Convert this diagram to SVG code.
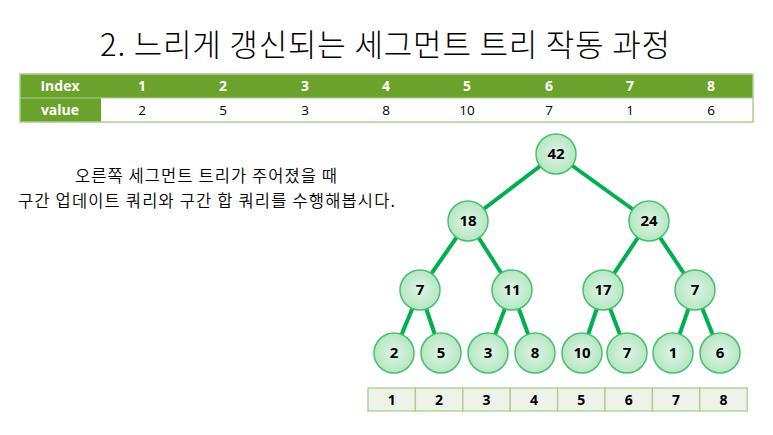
<svg xmlns="http://www.w3.org/2000/svg" width="773" height="435" viewBox="0 0 773 435">
<style>
.t{font-family:"Noto Sans CJK KR","Noto Sans",sans-serif;fill:#000}
.hd{font-family:"Open Sans","Noto Sans",sans-serif;font-weight:bold;font-size:14px;fill:#fff;text-anchor:middle}
.vl{font-family:"Open Sans","Noto Sans",sans-serif;font-size:13.5px;fill:#000;text-anchor:middle}
.nd circle{fill:url(#g);stroke:#45c06e;stroke-width:1.5}
.nd text{font-family:"Open Sans","Noto Sans",sans-serif;font-weight:bold;font-size:15px;fill:#000;text-anchor:middle}
.cl{fill:#eef2e8;stroke:#a6d08b;stroke-width:1.3}
.ct{font-family:"Open Sans","Noto Sans",sans-serif;font-weight:bold;font-size:14px;fill:#000;text-anchor:middle}
.e line{stroke:#00b050;stroke-width:4}
</style>
<defs>
<radialGradient id="g" cx="50%" cy="50%" r="50%">
<stop offset="0" stop-color="#e0f5e6"/>
<stop offset="1" stop-color="#b5e6c2"/>
</radialGradient>
</defs>
<rect width="773" height="435" fill="#fff"/>
<text class="t" x="385" y="56" font-size="31" font-weight="300" textLength="570" lengthAdjust="spacing" text-anchor="middle">2. 느리게 갱신되는 세그먼트 트리 작동 과정</text>
<g id="table">
<rect x="20" y="74" width="733" height="24" fill="#6aa22c"/>
<rect x="20" y="98" width="81" height="24" fill="#6aa22c"/>
<rect x="101" y="98" width="652" height="24" fill="#fff"/>
<rect x="20" y="74" width="733" height="48" fill="none" stroke="#a9d18e" stroke-width="1.5"/>
<line x1="20" y1="98" x2="753" y2="98" stroke="#a9d18e" stroke-width="1.2"/>
<text class="hd" x="60" y="91">Index</text>
<text class="hd" x="60" y="115">value</text>
<text class="hd" x="142" y="91">1</text>
<text class="hd" x="223" y="91">2</text>
<text class="hd" x="305" y="91">3</text>
<text class="hd" x="386" y="91">4</text>
<text class="hd" x="467" y="91">5</text>
<text class="hd" x="549" y="91">6</text>
<text class="hd" x="630" y="91">7</text>
<text class="hd" x="711" y="91">8</text>
<text class="vl" x="142" y="115">2</text>
<text class="vl" x="223" y="115">5</text>
<text class="vl" x="305" y="115">3</text>
<text class="vl" x="386" y="115">8</text>
<text class="vl" x="467" y="115">10</text>
<text class="vl" x="549" y="115">7</text>
<text class="vl" x="630" y="115">1</text>
<text class="vl" x="711" y="115">6</text>
</g>
<text class="t" font-size="16.5" font-weight="350" x="75" y="182" textLength="262" lengthAdjust="spacing">오른쪽 세그먼트 트리가 주어졌을 때</text>
<text class="t" font-size="16.5" font-weight="350" x="18" y="207" textLength="377" lengthAdjust="spacing">구간 업데이트 쿼리와 구간 합 쿼리를 수행해봅시다.</text>
<g id="connectors" class="e">
<line x1="556" y1="154" x2="468" y2="221"/>
<line x1="556" y1="154" x2="649" y2="221"/>
<line x1="468" y1="221" x2="420" y2="290"/>
<line x1="468" y1="221" x2="512" y2="290"/>
<line x1="649" y1="221" x2="603" y2="290"/>
<line x1="649" y1="221" x2="695" y2="290"/>
<line x1="420" y1="290" x2="394" y2="353"/>
<line x1="420" y1="290" x2="441" y2="353"/>
<line x1="512" y1="290" x2="488" y2="353"/>
<line x1="512" y1="290" x2="535" y2="353"/>
<line x1="603" y1="290" x2="582" y2="353"/>
<line x1="603" y1="290" x2="627" y2="353"/>
<line x1="695" y1="290" x2="673" y2="353"/>
<line x1="695" y1="290" x2="720" y2="353"/>
</g>
<g id="n42" class="nd"><circle cx="556" cy="154" r="20"/><text x="556" y="159">42</text></g>
<g id="n18" class="nd"><circle cx="468" cy="221" r="20"/><text x="468" y="226">18</text></g>
<g id="n24" class="nd"><circle cx="649" cy="221" r="20"/><text x="649" y="226">24</text></g>
<g id="n7a" class="nd"><circle cx="420" cy="290" r="20"/><text x="420" y="295">7</text></g>
<g id="n11" class="nd"><circle cx="512" cy="290" r="20"/><text x="512" y="295">11</text></g>
<g id="n17" class="nd"><circle cx="603" cy="290" r="20"/><text x="603" y="295">17</text></g>
<g id="n7b" class="nd"><circle cx="695" cy="290" r="20"/><text x="695" y="295">7</text></g>
<g id="l2" class="nd"><circle cx="394" cy="353" r="20"/><text x="394" y="358">2</text></g>
<g id="l5" class="nd"><circle cx="441" cy="353" r="20"/><text x="441" y="358">5</text></g>
<g id="l3" class="nd"><circle cx="488" cy="353" r="20"/><text x="488" y="358">3</text></g>
<g id="l8" class="nd"><circle cx="535" cy="353" r="20"/><text x="535" y="358">8</text></g>
<g id="l10" class="nd"><circle cx="582" cy="353" r="20"/><text x="582" y="358">10</text></g>
<g id="l7" class="nd"><circle cx="627" cy="353" r="20"/><text x="627" y="358">7</text></g>
<g id="l1" class="nd"><circle cx="673" cy="353" r="20"/><text x="673" y="358">1</text></g>
<g id="l6" class="nd"><circle cx="720" cy="353" r="20"/><text x="720" y="358">6</text></g>
<g id="array">
<rect class="cl" x="368" y="388" width="47.4" height="23"/>
<rect class="cl" x="415.4" y="388" width="47.4" height="23"/>
<rect class="cl" x="462.8" y="388" width="47.4" height="23"/>
<rect class="cl" x="510.2" y="388" width="47.4" height="23"/>
<rect class="cl" x="557.6" y="388" width="47.4" height="23"/>
<rect class="cl" x="605" y="388" width="47.4" height="23"/>
<rect class="cl" x="652.4" y="388" width="47.4" height="23"/>
<rect class="cl" x="699.8" y="388" width="47.4" height="23"/>
<text class="ct" x="391.7" y="404.5">1</text>
<text class="ct" x="439.1" y="404.5">2</text>
<text class="ct" x="486.5" y="404.5">3</text>
<text class="ct" x="533.9" y="404.5">4</text>
<text class="ct" x="581.3" y="404.5">5</text>
<text class="ct" x="628.7" y="404.5">6</text>
<text class="ct" x="676.1" y="404.5">7</text>
<text class="ct" x="723.5" y="404.5">8</text>
</g>
</svg>
